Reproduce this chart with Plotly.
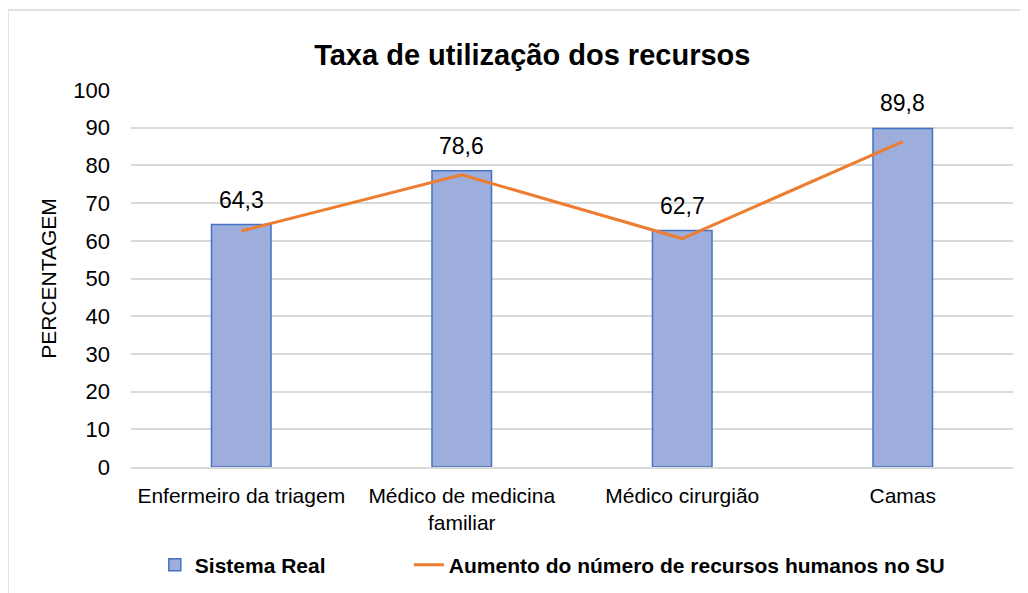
import plotly.graph_objects as go

categories = ["Enfermeiro da triagem", "Médico de medicina<br>familiar", "Médico cirurgião", "Camas"]
sistema_real = [64.3, 78.6, 62.7, 89.8]
aumento_rh = [62.6, 77.5, 60.6, 86.3]
y_ticks = [0, 10, 20, 30, 40, 50, 60, 70, 80, 90, 100]

FONT = "Arial, Liberation Sans, sans-serif"

fig = go.Figure()
fig.add_trace(go.Bar(
    x=categories, y=sistema_real, name="<b>Sistema Real</b>",
    marker=dict(color="#9DAEDD", line=dict(color="#4472C4", width=1.5)),
    width=0.27, legend="legend",
))
fig.add_trace(go.Scatter(
    x=categories, y=aumento_rh, name="<b>Aumento do número de recursos humanos no SU</b>",
    mode="lines", line=dict(color="#ED7D31", width=3), legend="legend2",
))

for c, v in zip(categories, sistema_real):
    fig.add_annotation(x=c, y=v, text=f"{v:.1f}".replace(".", ","), showarrow=False,
                       yshift=25, font=dict(size=23, color="#000000", family=FONT))

fig.add_shape(type="rect", xref="paper", yref="paper",
              x0=-0.1395, x1=1.05, y0=-0.4, y1=1.212,
              line=dict(color="#D9D9D9", width=1.5), layer="below")

legend_common = dict(orientation="h", yanchor="middle", y=-0.26, xanchor="left",
                     font=dict(size=21, family=FONT, color="#000000"),
                     bgcolor="rgba(0,0,0,0)")

fig.update_layout(
    width=1020, height=585,
    margin=dict(l=123, r=15, t=82, b=126, autoexpand=False),
    paper_bgcolor="white", plot_bgcolor="white",
    font=dict(family=FONT, color="#000000", size=21),
    title=dict(text="<b>Taxa de utilização dos recursos</b>", x=0.514, xanchor="center",
               y=1 - 47 / 585, yanchor="middle", font=dict(size=29, family=FONT)),
    showlegend=True,
    legend=dict(x=0.027, **legend_common),
    legend2=dict(x=0.315, **legend_common),
    yaxis=dict(range=[0, 100], tickvals=y_ticks, showgrid=True, gridcolor="#D9D9D9",
               gridwidth=1.5, zeroline=False, showline=False, ticks="",
               ticklabelstandoff=20, tickfont=dict(size=22),
               title=dict(text="PERCENTAGEM", font=dict(size=21), standoff=10)),
    xaxis=dict(showline=True, linecolor="#D9D9D9", linewidth=1.5, ticks="",
               tickfont=dict(size=21), ticklabelstandoff=9),
)

fig.write_html("out.html")
